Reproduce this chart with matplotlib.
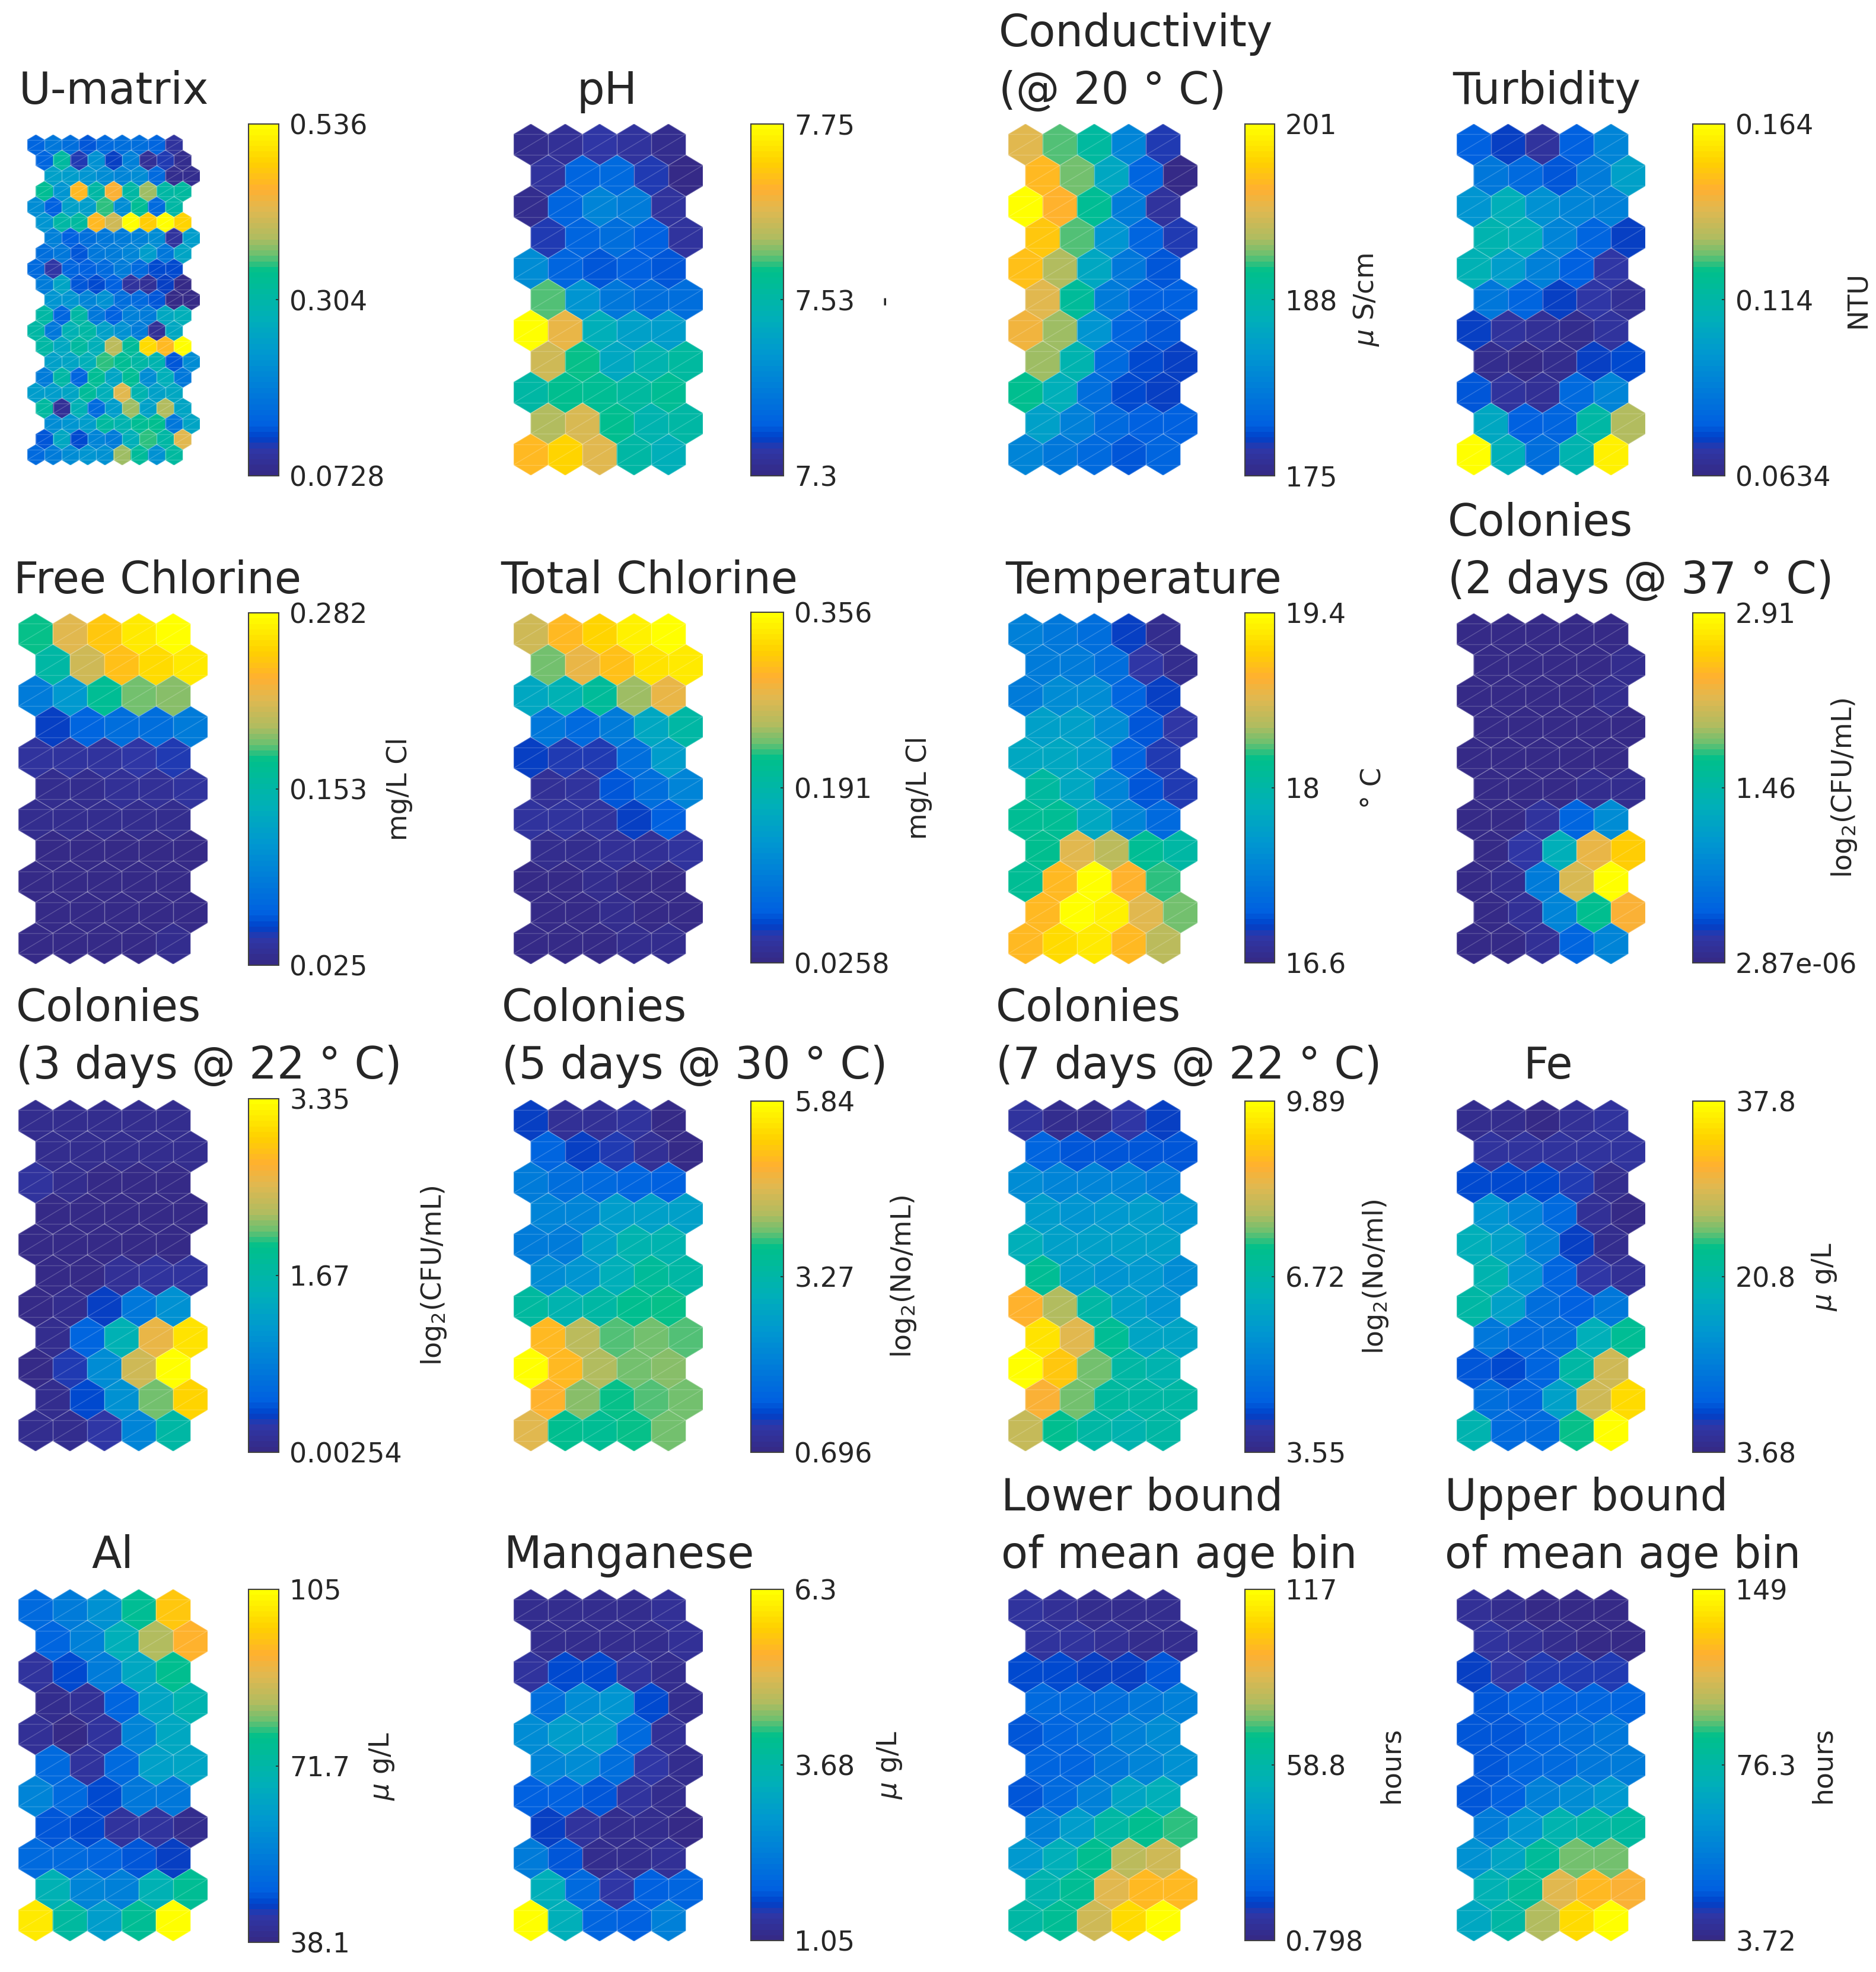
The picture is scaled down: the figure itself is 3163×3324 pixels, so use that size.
import numpy as np
import matplotlib
matplotlib.use('Agg')
import matplotlib.pyplot as plt
from matplotlib.cm import ScalarMappable
from matplotlib.collections import LineCollection, PolyCollection
from matplotlib.colors import LinearSegmentedColormap, Normalize

W, H = 3163, 3324

# cell values as percent of each panel's colorbar range
umatrix = [
    [16, 22, 20, 14, 18, 20, 20, 17, 6],
    [16, 52, 8, 32, 10, 26, 4, 8, 2],
    [38, 36, 34, 30, 28, 30, 18, 3, 2],
    [56, 34, 84, 50, 80, 50, 66, 50, 52],
    [30, 15, 38, 36, 60, 30, 56, 18, 50],
    [34, 50, 52, 84, 72, 100, 88, 100, 90],
    [26, 15, 20, 22, 24, 26, 30, 5, 36],
    [20, 22, 14, 22, 24, 28, 36, 22, 40],
    [18, 7, 16, 15, 18, 24, 18, 11, 12],
    [24, 40, 14, 12, 15, 5, 4, 10, 1],
    [34, 34, 28, 32, 20, 18, 14, 1, 0],
    [50, 16, 50, 22, 15, 25, 24, 42, 44],
    [50, 22, 46, 50, 38, 32, 24, 4, 42],
    [50, 42, 52, 44, 70, 54, 92, 84, 100],
    [38, 40, 44, 60, 55, 50, 48, 14, 30],
    [24, 50, 16, 55, 40, 56, 30, 44, 22],
    [36, 36, 40, 54, 44, 76, 48, 38, 42],
    [52, 4, 46, 18, 36, 66, 38, 68, 40],
    [30, 33, 36, 52, 48, 56, 57, 22, 40],
    [14, 42, 11, 28, 24, 44, 60, 50, 76],
    [18, 24, 30, 34, 32, 66, 54, 32, 52],
]
ph = [
    [2, 4, 7, 5, 2], [6, 16, 18, 8, 1], [2, 17, 28, 24, 6], [8, 16, 20, 15, 6],
    [30, 16, 14, 15, 13], [62, 33, 22, 20, 20], [100, 77, 45, 38, 36],
    [72, 58, 42, 48, 52], [50, 57, 56, 53, 55], [68, 74, 57, 47, 50], [84, 90, 76, 50, 44],
]
conductivity = [
    [75, 62, 52, 28, 8], [84, 63, 42, 16, 1], [100, 82, 55, 24, 6], [87, 62, 33, 17, 8],
    [85, 68, 42, 22, 14], [76, 54, 24, 15, 15], [79, 66, 33, 16, 14],
    [66, 47, 18, 11, 10], [57, 44, 20, 12, 10], [38, 26, 18, 15, 15], [28, 22, 18, 14, 16],
]
turbidity = [
    [15, 10, 6, 15, 28], [22, 18, 13, 24, 38], [34, 44, 32, 28, 26], [48, 45, 28, 16, 10],
    [46, 36, 25, 15, 7], [22, 17, 10, 7, 4], [10, 6, 4, 3, 5], [2, 1, 2, 10, 12],
    [14, 6, 4, 18, 28], [42, 15, 16, 50, 68], [100, 45, 20, 48, 96],
]
free_chlorine = [
    [58, 76, 86, 94, 100], [50, 72, 85, 92, 94], [24, 35, 55, 64, 65], [10, 16, 19, 20, 24],
    [5, 5, 6, 7, 8], [2, 2, 4, 4, 5], [2, 2, 2, 3, 3], [1, 1, 1, 1, 1],
    [1, 1, 1, 1, 1], [1, 1, 1, 1, 1], [1, 1, 1, 1, 2],
]
total_chlorine = [
    [72, 84, 90, 96, 100], [63, 78, 85, 93, 95], [42, 46, 54, 66, 78], [22, 18, 24, 42, 50],
    [10, 8, 9, 20, 36], [4, 6, 14, 20, 28], [5, 5, 6, 10, 15], [3, 3, 4, 4, 5],
    [1, 1, 2, 1, 1], [1, 1, 2, 1, 1], [1, 1, 1, 2, 2],
]
temperature = [
    [26, 22, 20, 10, 2], [24, 24, 20, 7, 2], [24, 30, 30, 16, 10], [38, 38, 30, 14, 7],
    [42, 42, 36, 16, 9], [52, 42, 27, 14, 9], [56, 55, 42, 28, 18], [57, 76, 70, 55, 51],
    [56, 84, 100, 82, 60], [84, 100, 96, 76, 64], [84, 92, 95, 84, 70],
]
colonies_2d = [
    [1, 1, 1, 1, 1], [1, 1, 1, 1, 3], [1, 1, 1, 1, 3], [1, 1, 1, 1, 1], [1, 1, 1, 1, 1],
    [1, 1, 1, 2, 3], [1, 1, 5, 16, 30], [1, 7, 44, 78, 88], [1, 2, 24, 74, 100],
    [1, 4, 28, 57, 80], [1, 1, 4, 16, 28],
]
colonies_3d = [
    [3, 3, 3, 2, 2], [3, 3, 2, 2, 2], [5, 3, 1, 1, 1], [1, 1, 1, 1, 1], [1, 1, 1, 1, 1],
    [1, 1, 4, 5, 6], [1, 2, 10, 22, 32], [2, 16, 46, 78, 93], [1, 8, 30, 72, 100],
    [3, 11, 32, 64, 90], [2, 3, 7, 28, 50],
]
colonies_5d = [
    [10, 4, 4, 5, 1], [16, 10, 8, 4, 1], [24, 20, 18, 17, 15], [28, 28, 36, 38, 38],
    [24, 24, 38, 48, 48], [30, 34, 44, 54, 50], [52, 48, 50, 57, 58], [84, 70, 61, 63, 61],
    [100, 84, 68, 64, 65], [82, 65, 59, 62, 64], [76, 57, 55, 58, 64],
]
colonies_7d = [
    [6, 2, 2, 7, 10], [16, 13, 13, 14, 14], [30, 27, 28, 28, 24], [36, 34, 35, 36, 34],
    [44, 38, 38, 38, 38], [55, 36, 34, 35, 30], [82, 68, 50, 38, 34], [93, 75, 55, 40, 40],
    [100, 86, 63, 50, 47], [80, 64, 53, 50, 50], [71, 57, 50, 47, 50],
]
fe = [
    [2, 2, 1, 4, 6], [5, 5, 5, 5, 5], [12, 12, 12, 8, 2], [33, 27, 18, 4, 1],
    [44, 38, 26, 10, 2], [47, 33, 16, 7, 4], [50, 38, 19, 15, 22], [22, 18, 20, 44, 56],
    [13, 12, 16, 50, 72], [20, 16, 38, 72, 92], [48, 18, 18, 58, 100],
]
al = [
    [18, 24, 32, 56, 86], [16, 26, 44, 68, 82], [5, 11, 24, 42, 57], [2, 4, 16, 40, 47],
    [4, 1, 5, 28, 42], [18, 5, 18, 38, 40], [28, 18, 12, 22, 22], [14, 12, 6, 5, 3],
    [18, 18, 16, 14, 10], [46, 28, 26, 46, 56], [94, 52, 36, 56, 100],
]
manganese = [
    [2, 2, 2, 2, 4], [2, 2, 2, 3, 4], [6, 11, 12, 6, 3], [20, 30, 34, 11, 3],
    [30, 36, 36, 18, 4], [28, 30, 20, 7, 3], [15, 15, 13, 5, 3], [10, 5, 3, 2, 1],
    [24, 13, 3, 3, 4], [44, 18, 7, 15, 16], [100, 44, 16, 15, 26],
]
lower_bound = [
    [5, 4, 3, 3, 2], [6, 5, 4, 2, 3], [11, 11, 10, 10, 13], [18, 18, 19, 23, 25],
    [14, 17, 19, 26, 31], [16, 17, 22, 28, 32], [14, 18, 26, 40, 44], [25, 36, 50, 57, 60],
    [35, 44, 57, 70, 72], [48, 55, 76, 84, 84], [50, 55, 72, 91, 100],
]
upper_bound = [
    [4, 2, 1, 1, 1], [5, 4, 2, 1, 1], [10, 7, 8, 8, 8], [14, 15, 15, 16, 17],
    [14, 14, 16, 20, 22], [14, 16, 18, 22, 24], [14, 15, 26, 31, 35], [24, 34, 48, 50, 52],
    [32, 40, 54, 64, 64], [46, 54, 76, 84, 80], [42, 50, 68, 92, 100],
]

panel_values = [umatrix, ph, conductivity, turbidity,
                free_chlorine, total_chlorine, temperature, colonies_2d,
                colonies_3d, colonies_5d, colonies_7d, fe,
                al, manganese, lower_bound, upper_bound]

tick_labels = [
    ['0.0728', '0.304', '0.536'], ['7.3', '7.53', '7.75'], ['175', '188', '201'], ['0.0634', '0.114', '0.164'],
    ['0.025', '0.153', '0.282'], ['0.0258', '0.191', '0.356'], ['16.6', '18', '19.4'], ['2.87e-06', '1.46', '2.91'],
    ['0.00254', '1.67', '3.35'], ['0.696', '3.27', '5.84'], ['3.55', '6.72', '9.89'], ['3.68', '20.8', '37.8'],
    ['38.1', '71.7', '105'], ['1.05', '3.68', '6.3'], ['0.798', '58.8', '117'], ['3.72', '76.3', '149'],
]
units = ['', '-', r'$\mu$ S/cm', 'NTU',
         'mg/L Cl', 'mg/L Cl', '° C', r'log$_2$(CFU/mL)',
         r'log$_2$(CFU/mL)', r'log$_2$(No/mL)', r'log$_2$(No/ml)', r'$\mu$ g/L',
         r'$\mu$ g/L', r'$\mu$ g/L', 'hours', 'hours']
titles = [
    ['U-matrix'], ['pH'], ['Conductivity', '(@ 20 ° C)'], ['Turbidity'],
    ['Free Chlorine'], ['Total Chlorine'], ['Temperature'], ['Colonies', '(2 days @ 37 ° C)'],
    ['Colonies', '(3 days @ 22 ° C)'], ['Colonies', '(5 days @ 30 ° C)'], ['Colonies', '(7 days @ 22 ° C)'], ['Fe'],
    ['Al'], ['Manganese'], ['Lower bound', 'of mean age bin'], ['Upper bound', 'of mean age bin'],
]

# layout in pixels of the full image
col_hex = [(31, 350), (866, 1185), (1700, 2019), (2456, 2774)]
col_bar = [(419, 470), (1266, 1321), (2099, 2149), (2854, 2908)]
row_hex = [(209, 801), (1034, 1625), (1854, 2446), (2679, 3272)]
bar_y = [(209, 802), (209, 802), (209, 802), (209, 802),
         (1033, 1627), (1032, 1623), (1033, 1623), (1033, 1623),
         (1852, 2448), (1856, 2448), (1856, 2448), (1856, 2448),
         (2679, 3274), (2679, 3271), (2679, 3271), (2679, 3271)]
title_x = [32, 972, 1684, 2449, 23, 844, 1695, 2441, 27, 846, 1679, 2569, 154, 850, 1688, 2436]
title_base = [175, 1000, 1818, 2643]
title_step = 97
unit_x = [0, 1491, 2304, 3133, 673, 1550, 2316, 3109, 732, 1523, 2320, 3076, 644, 1500, 2346, 3074]

parula = LinearSegmentedColormap.from_list('parula_like', [
    (0.00, '#352a87'), (0.07, '#2e37a8'), (0.10, '#0040c8'), (0.14, '#0060e0'),
    (0.255, '#0080d8'), (0.345, '#0098d0'), (0.45, '#00b0b8'), (0.585, '#00c08a'),
    (0.63, '#6cc070'), (0.68, '#b0bc60'), (0.76, '#e0b850'), (0.82, '#ffb030'),
    (0.895, '#ffd000'), (1.00, '#ffff00')], N=64)


def px_axes(fig, x0, x1, y0, y1):
    return fig.add_axes([x0 / W, 1 - y1 / H, (x1 - x0) / W, (y1 - y0) / H])


def draw_hexes(ax, values):
    values = np.array(values, dtype=float)
    nrows, ncols = values.shape
    half = 0.5
    side = 1 / np.sqrt(3)
    step = 1.5 * side
    polys, colors, seams = [], [], []
    for r in range(nrows):
        # U-matrix rows zigzag over three positions, the others alternate
        if ncols > 5:
            off = [0, 0.5, 1, 0.5][r % 4]
        else:
            off = [0, 0.5][r % 2]
        for c in range(ncols):
            cx, cy = c + off, r * step
            top_l = (cx - half, cy - side / 2)
            top_r = (cx + half, cy - side / 2)
            bot_l = (cx - half, cy + side / 2)
            bot_r = (cx + half, cy + side / 2)
            polys.append([(cx, cy - side), top_r, bot_r, (cx, cy + side), bot_l, top_l])
            colors.append(values[r, c])
            seams += [[top_l, top_r], [bot_l, bot_r], [bot_l, top_r],
                      [top_l, (cx, cy - side)], [(cx, cy - side), top_r],
                      [bot_l, (cx, cy + side)], [(cx, cy + side), bot_r],
                      [top_l, bot_l], [top_r, bot_r]]
    pc = PolyCollection(polys, array=np.array(colors), cmap=parula, norm=Normalize(0, 100),
                        edgecolors='face', linewidths=0.5)
    ax.add_collection(pc)
    ax.add_collection(LineCollection(seams, colors=[(1, 1, 1, 0.2)], linewidths=1.0))
    max_off = 1 if ncols > 5 else 0.5
    ax.set_xlim(-half, ncols - 1 + max_off + half)
    ax.set_ylim((nrows - 1) * step + side, -side)
    ax.axis('off')


fig = plt.figure(figsize=(W / 100, H / 100), dpi=100, facecolor='white')
plt.rcParams['font.family'] = 'DejaVu Sans'
text_color = '#262626'

for i, values in enumerate(panel_values):
    row, col = i // 4, i % 4
    hx0, hx1 = col_hex[col]
    hy0, hy1 = row_hex[row]
    if i == 0:
        # the U-matrix has more cells and sits a little smaller in its box
        hx0, hx1, hy0, hy1 = 46, 337, 227, 784
    ax = px_axes(fig, hx0, hx1, hy0, hy1)
    draw_hexes(ax, values)

    bx0, bx1 = col_bar[col]
    by0, by1 = bar_y[i]
    cax = px_axes(fig, bx0, bx1, by0, by1)
    cb = fig.colorbar(ScalarMappable(norm=Normalize(0, 100), cmap=parula), cax=cax)
    cb.set_ticks([0, 50, 100])
    cb.set_ticklabels(tick_labels[i])
    cax.tick_params(axis='y', direction='in', length=3.5, width=1.2, labelsize=33,
                    colors=text_color, pad=13)
    cb.outline.set_edgecolor('#404040')
    cb.outline.set_linewidth(1.5)

    if units[i]:
        fig.text(unit_x[i] / W, 1 - (by0 + by1) / 2 / H, units[i], rotation=90, fontsize=33,
                 ha='center', va='center', color=text_color)

    lines = titles[i]
    for k, line in enumerate(lines):
        base = title_base[row] - (len(lines) - 1 - k) * title_step
        fig.text(title_x[i] / W, 1 - base / H, line, fontsize=53, ha='left', va='baseline',
                 color=text_color)

fig.savefig('out.png', dpi=100)
